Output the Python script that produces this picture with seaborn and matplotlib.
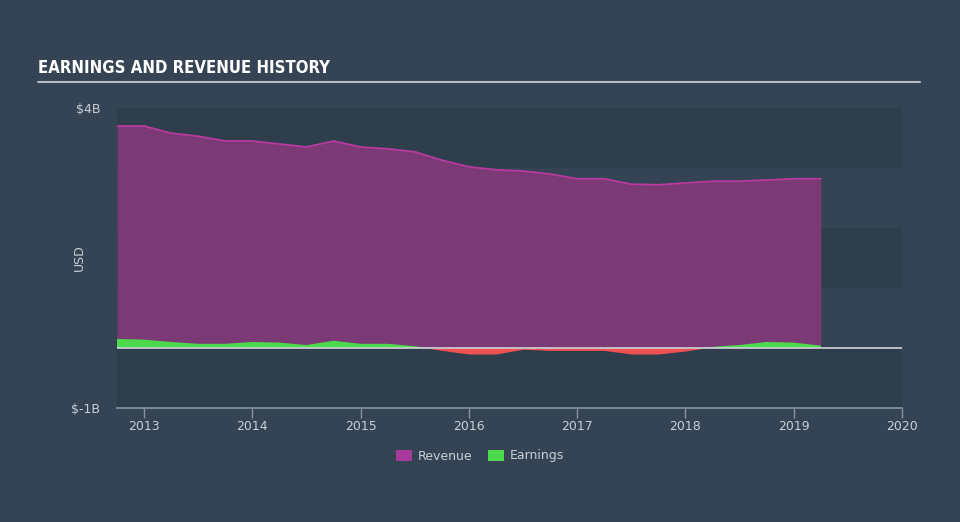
import numpy as np
import pandas as pd
import matplotlib
matplotlib.use("Agg")
import matplotlib.pyplot as plt
import seaborn as sns
from matplotlib.patches import Patch

# ---- data (USD billions), quarterly ----
dates = [2012.75, 2013.0, 2013.25, 2013.5, 2013.75, 2014.0, 2014.25, 2014.5, 2014.75,
         2015.0, 2015.25, 2015.5, 2015.75, 2016.0, 2016.25, 2016.5, 2016.75, 2017.0,
         2017.25, 2017.5, 2017.75, 2018.0, 2018.25, 2018.5, 2018.75, 2019.0, 2019.25]
revenue = [3.70, 3.70, 3.58, 3.53, 3.45, 3.45, 3.40, 3.35, 3.45,
           3.35, 3.32, 3.27, 3.13, 3.02, 2.97, 2.95, 2.90, 2.82,
           2.82, 2.73, 2.72, 2.75, 2.78, 2.78, 2.80, 2.82, 2.82]
earnings = [0.15, 0.14, 0.10, 0.07, 0.07, 0.10, 0.09, 0.05, 0.12,
            0.07, 0.07, 0.03, -0.04, -0.10, -0.10, -0.02, -0.04, -0.04,
            -0.04, -0.10, -0.10, -0.05, 0.02, 0.05, 0.10, 0.09, 0.04]
x_ticks = [2013, 2014, 2015, 2016, 2017, 2018, 2019, 2020]
y_ticks = [-1, 4]
y_tick_labels = ["$-1B", "$4B"]
series_names = ["Revenue", "Earnings"]

df = pd.DataFrame({"date": dates, "Revenue": revenue, "Earnings": earnings})

BG = "#344454"
BAND_DARK = "#2f3e4d"
PURPLE_FILL = "#7b3a76"
PURPLE_LINE = "#b83a9e"
GREEN = "#4cd94c"
RED = "#f0504f"
TXT = "#c9ced4"

sns.set_theme(style="dark")
plt.rcParams['font.family'] = ['DejaVu Sans']

fig = plt.figure(figsize=(9.6, 5.22), dpi=100, facecolor=BG)
ax = fig.add_axes([117/960, 1-408/522, 785/960, 300/522])
ax.set_facecolor(BG)

ax.set_xlim(2012.75, 2020.0)
ax.set_ylim(-1, 4)

# horizontal bands
for lo, hi in [(3, 4), (1, 2), (-1, 0)]:
    ax.axhspan(lo, hi, color=BAND_DARK, zorder=0, lw=0)

# revenue area
ax.fill_between(df["date"], 0, df["Revenue"], color=PURPLE_FILL, lw=0, zorder=1)
sns.lineplot(data=df, x="date", y="Revenue", ax=ax, color=PURPLE_LINE, lw=1.3, zorder=2)

# earnings area
e = np.array(earnings)
ax.fill_between(df["date"], 0, e, where=e >= 0, interpolate=True, color=GREEN, lw=0, zorder=3)
ax.fill_between(df["date"], 0, e, where=e <= 0, interpolate=True, color=RED, lw=0, zorder=3)

# zero line
ax.axhline(0, color="#d0d4d8", lw=1.2, zorder=4)

ax.set_xticks(x_ticks)
ax.set_xticklabels([str(t) for t in x_ticks])
ax.set_yticks(y_ticks)
ax.set_yticklabels(y_tick_labels)
ax.tick_params(axis="x", colors=TXT, labelsize=9, length=7, width=1, color="#8795a3", pad=2, direction="out", bottom=True)
ax.tick_params(axis="y", colors=TXT, labelsize=9, length=0, pad=12)
for s in ["top", "right", "left"]:
    ax.spines[s].set_visible(False)
ax.spines["bottom"].set_color("#8795a3")
ax.spines["bottom"].set_linewidth(1.2)
ax.grid(False)
ax.set_xlabel("")
ax.set_ylabel("USD", color=TXT, fontsize=9)
ax.yaxis.set_label_coords(-0.040, 0.5)

# title and rule
fig.text(38/960, 1-68/522, "EARNINGS AND REVENUE HISTORY", color="white", fontsize=12,
         fontweight="bold", fontstretch="condensed", family=["Liberation Sans Narrow", "DejaVu Sans"],
         va="center", ha="left")
fig.add_artist(plt.Line2D([38/960, 920/960], [1-82/522, 1-82/522], color="#b5bcc3", lw=1.5))

# legend
handles = [Patch(facecolor="#a8399a", edgecolor="none", label=series_names[0]),
           Patch(facecolor=GREEN, edgecolor="none", label=series_names[1])]
leg = fig.legend(handles=handles, loc="center", bbox_to_anchor=(0.5, 1-456/522), ncol=2,
                 frameon=False, fontsize=9, handlelength=1.3, handleheight=1.0,
                 columnspacing=1.2, handletextpad=0.5)
for t in leg.get_texts():
    t.set_color(TXT)

fig.savefig("out.png", dpi=100, facecolor=BG)
